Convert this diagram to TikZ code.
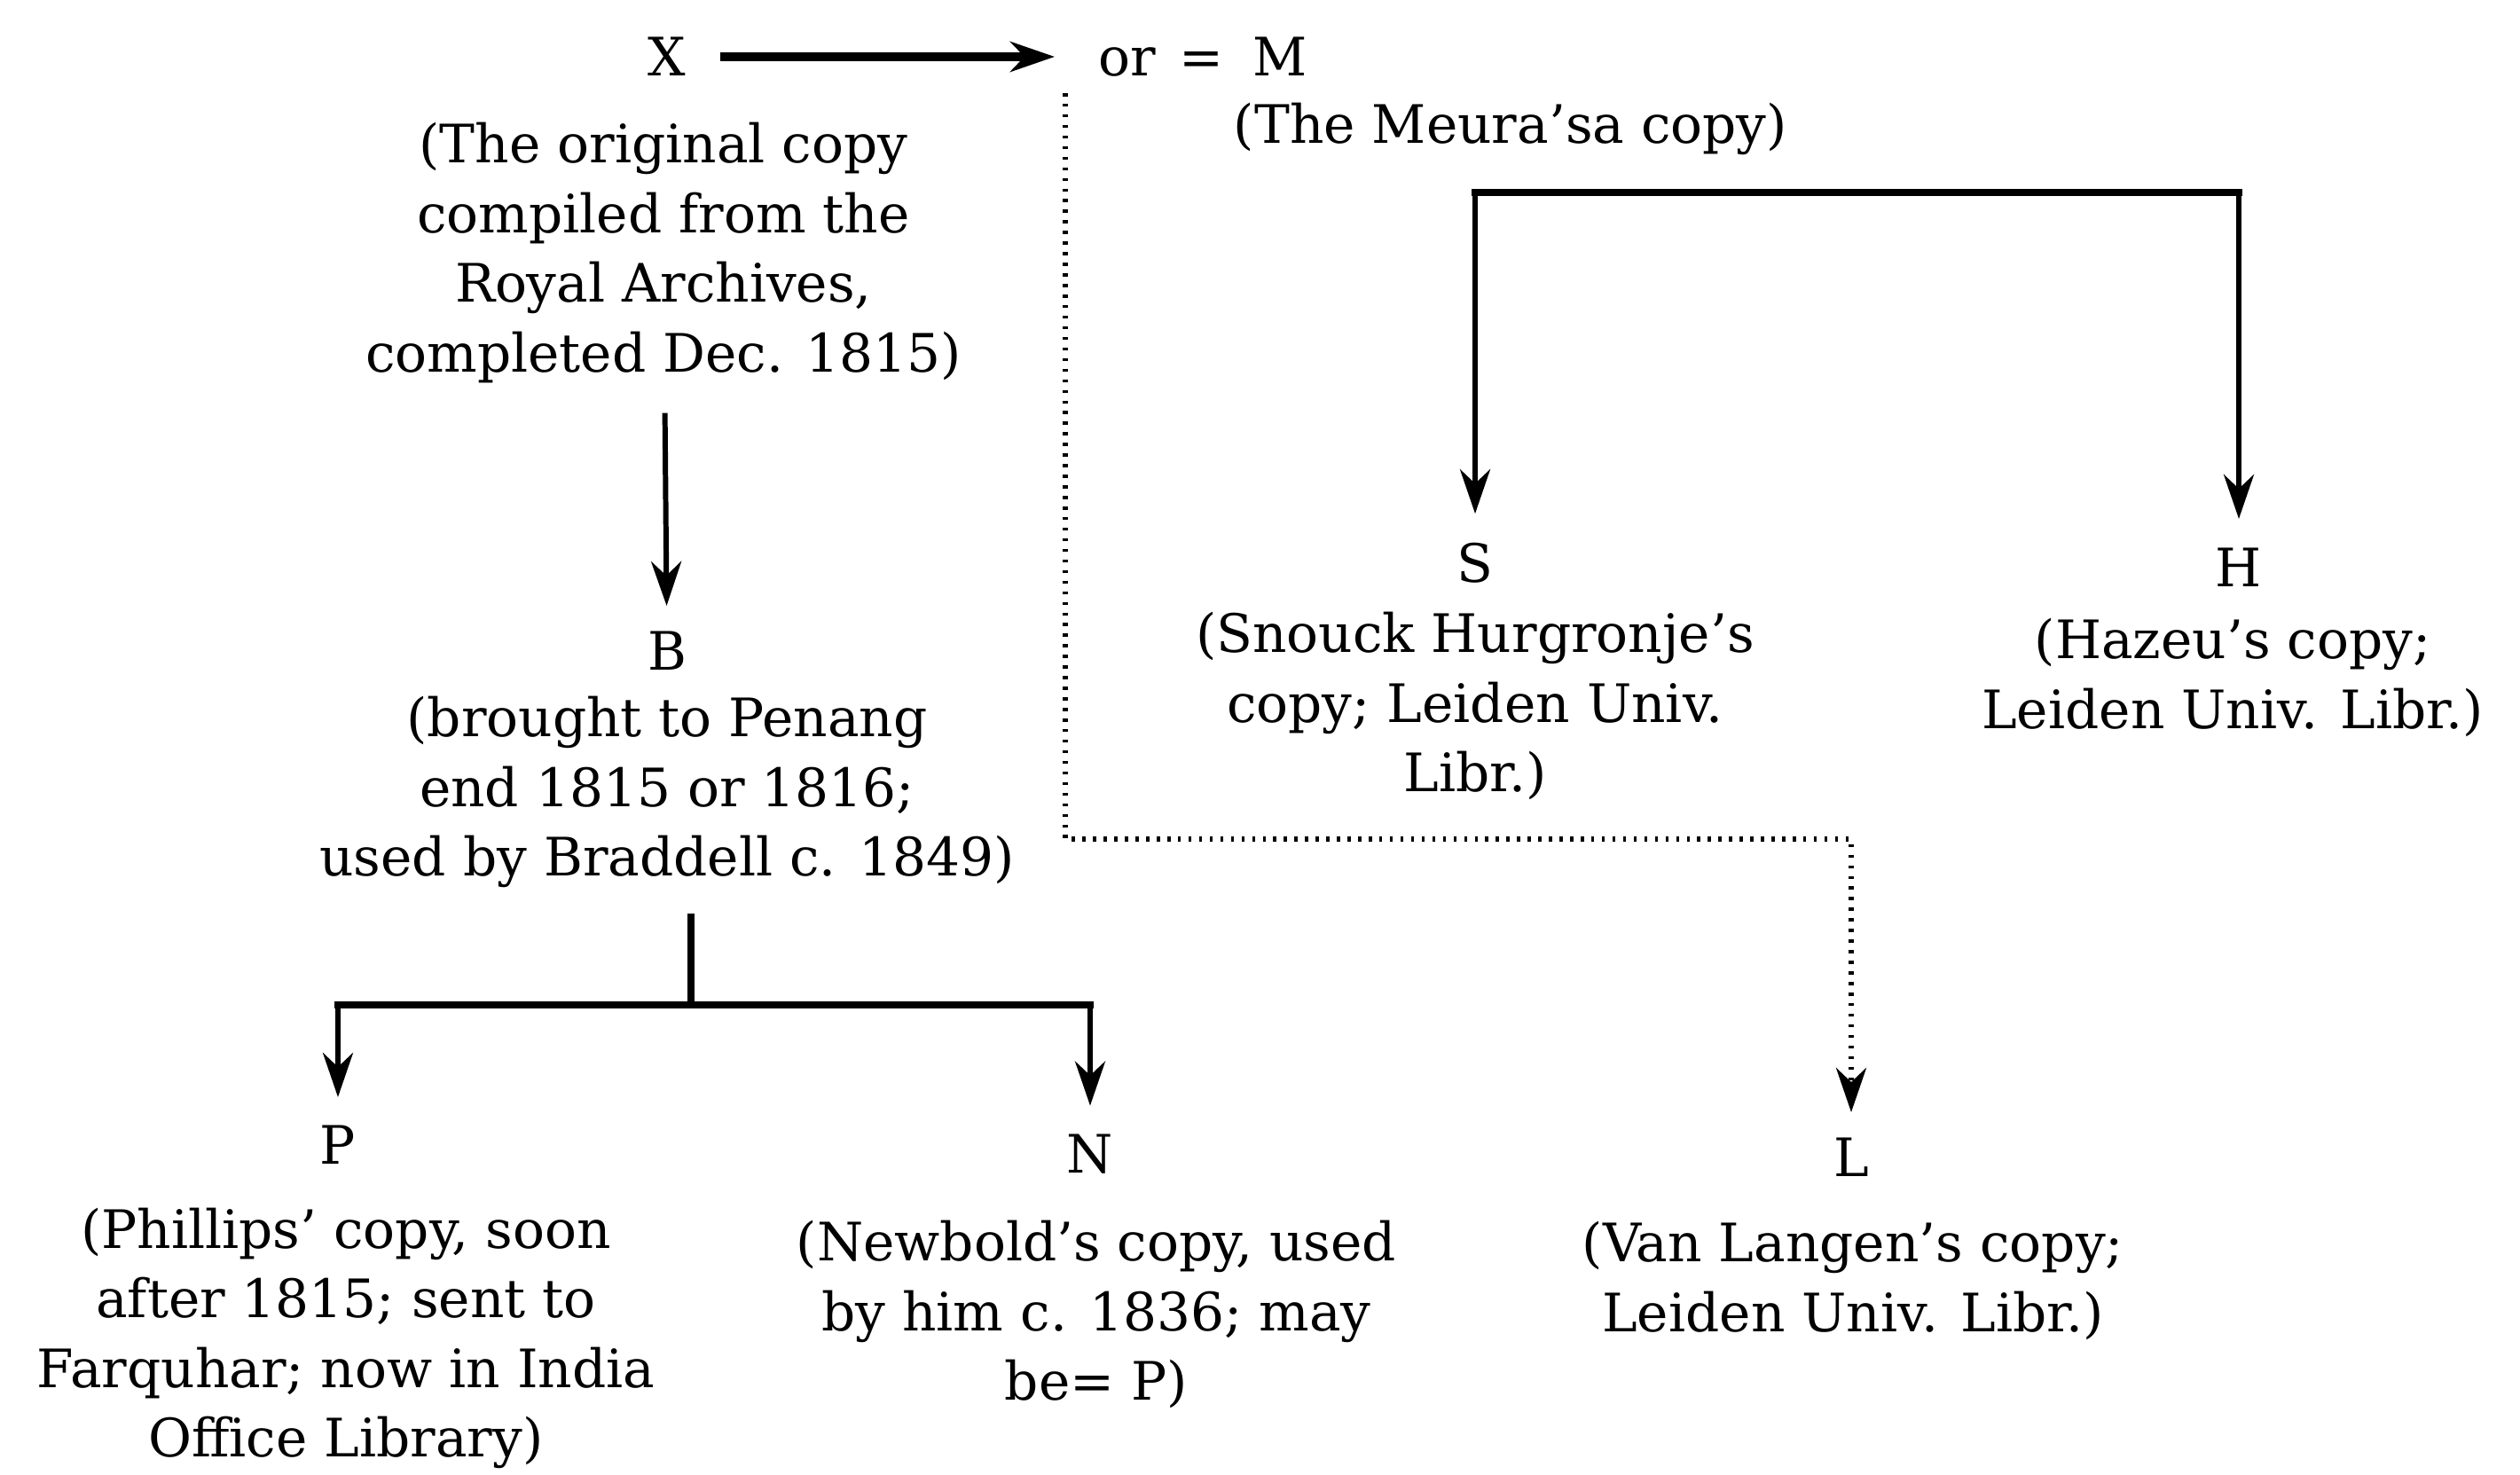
\documentclass[tikz,border=0pt]{standalone}
\usepackage{fontspec}
\setmainfont{DejaVu Serif}
\usetikzlibrary{arrows.meta,calc}

\begin{document}
\begin{tikzpicture}[
    lbl/.style={inner sep=1pt, font=\fontsize{17}{22.3}\selectfont},
    desc/.style={lbl, align=center},
    arr/.style={line width=1.7pt, -{Stealth[length=5mm,width=3.4mm,inset=1.6mm]}},
    bar/.style={line width=2.5pt, line cap=rect},
    dotarr/.style={line width=1.7pt, dash pattern=on 1pt off 2.4pt,
        -{Stealth[length=5mm,width=3.4mm,inset=1.6mm]}}]
    %%%%% START %%%%%
    
    \useasboundingbox (0,0) rectangle (28.41,16.62);
    
    % top row
    \node[lbl] (nx) at (7.52,15.98) {X};
    \node[lbl, anchor=west] (nm) at (12.34,15.98) {or\hspace{0.45em}=\hspace{0.55em}M};
    \draw[arr, line width=2.6pt, shorten <=0.35cm, shorten >=0.45cm] (nx) -- (nm);
    
    \node[desc] (ndx) at (7.48,13.77) {(The original copy\\compiled from the\\Royal Archives,\\completed Dec. 1815)};
    \node[desc] (ndm) at (17.03,15.17) {(The Meura'sa copy)};
    
    % left branch
    \node[lbl] (nb) at (7.52,9.28) {B};
    \node[desc] (ndb) at (7.52,7.69) {(brought to Penang\\end 1815 or 1816;\\used by Braddell c. 1849)};
    \draw[arr, shorten <=0.3cm, shorten >=0.25cm] (ndx) -- (nb);
    
    \node[lbl] (np) at (3.81,3.71) {P};
    \node[desc] (ndp) at (3.90,1.53) {(Phillips' copy, soon\\after 1815; sent to\\Farquhar; now in India\\Office Library)};
    \node[lbl] (nn) at (12.29,3.61) {N};
    \node[desc] (ndn) at (12.36,1.80) {(Newbold's copy, used\\by him c. 1836; may\\be= P)};
    
    \coordinate (bfork) at (7.79,5.29);
    \draw[line width=2.2pt] ($(ndb.south -| bfork)+(0,-0.25)$) -- (bfork);
    \draw[bar] (np |- bfork) -- (nn |- bfork);
    \draw[arr, shorten >=0.28cm] (np |- bfork) -- (np);
    \draw[arr, shorten >=0.28cm] (nn |- bfork) -- (nn);
    
    % right branch
    \node[lbl] (ns) at (16.63,10.27) {S};
    \node[desc] (nds) at (16.63,8.66) {(Snouck Hurgronje's\\copy; Leiden Univ.\\Libr.)};
    \node[lbl] (nh) at (25.24,10.22) {H};
    \node[desc] (ndh) at (25.17,8.98) {(Hazeu's copy;\\Leiden Univ. Libr.)};
    
    \coordinate (mfork) at (16.73,14.45);
    \draw[bar] (ns |- mfork) -- (nh |- mfork);
    \draw[arr, shorten >=0.29cm] (ns |- mfork) -- (ns);
    \draw[arr, shorten >=0.29cm] (nh |- mfork) -- (nh);
    
    % dotted line to L
    \node[lbl] (nl) at (20.87,3.57) {L};
    \node[desc] (ndl) at (20.89,2.18) {(Van Langen's copy;\\Leiden Univ. Libr.)};
    
    \coordinate (dstart) at (12.01,15.57);
    \coordinate (dbend) at (12.01,7.16);
    \draw[dotarr, shorten >=0.25cm] (dstart) -- (dbend) -| (nl);
    
    %%%%% END %%%%%
\end{tikzpicture}
\end{document}
